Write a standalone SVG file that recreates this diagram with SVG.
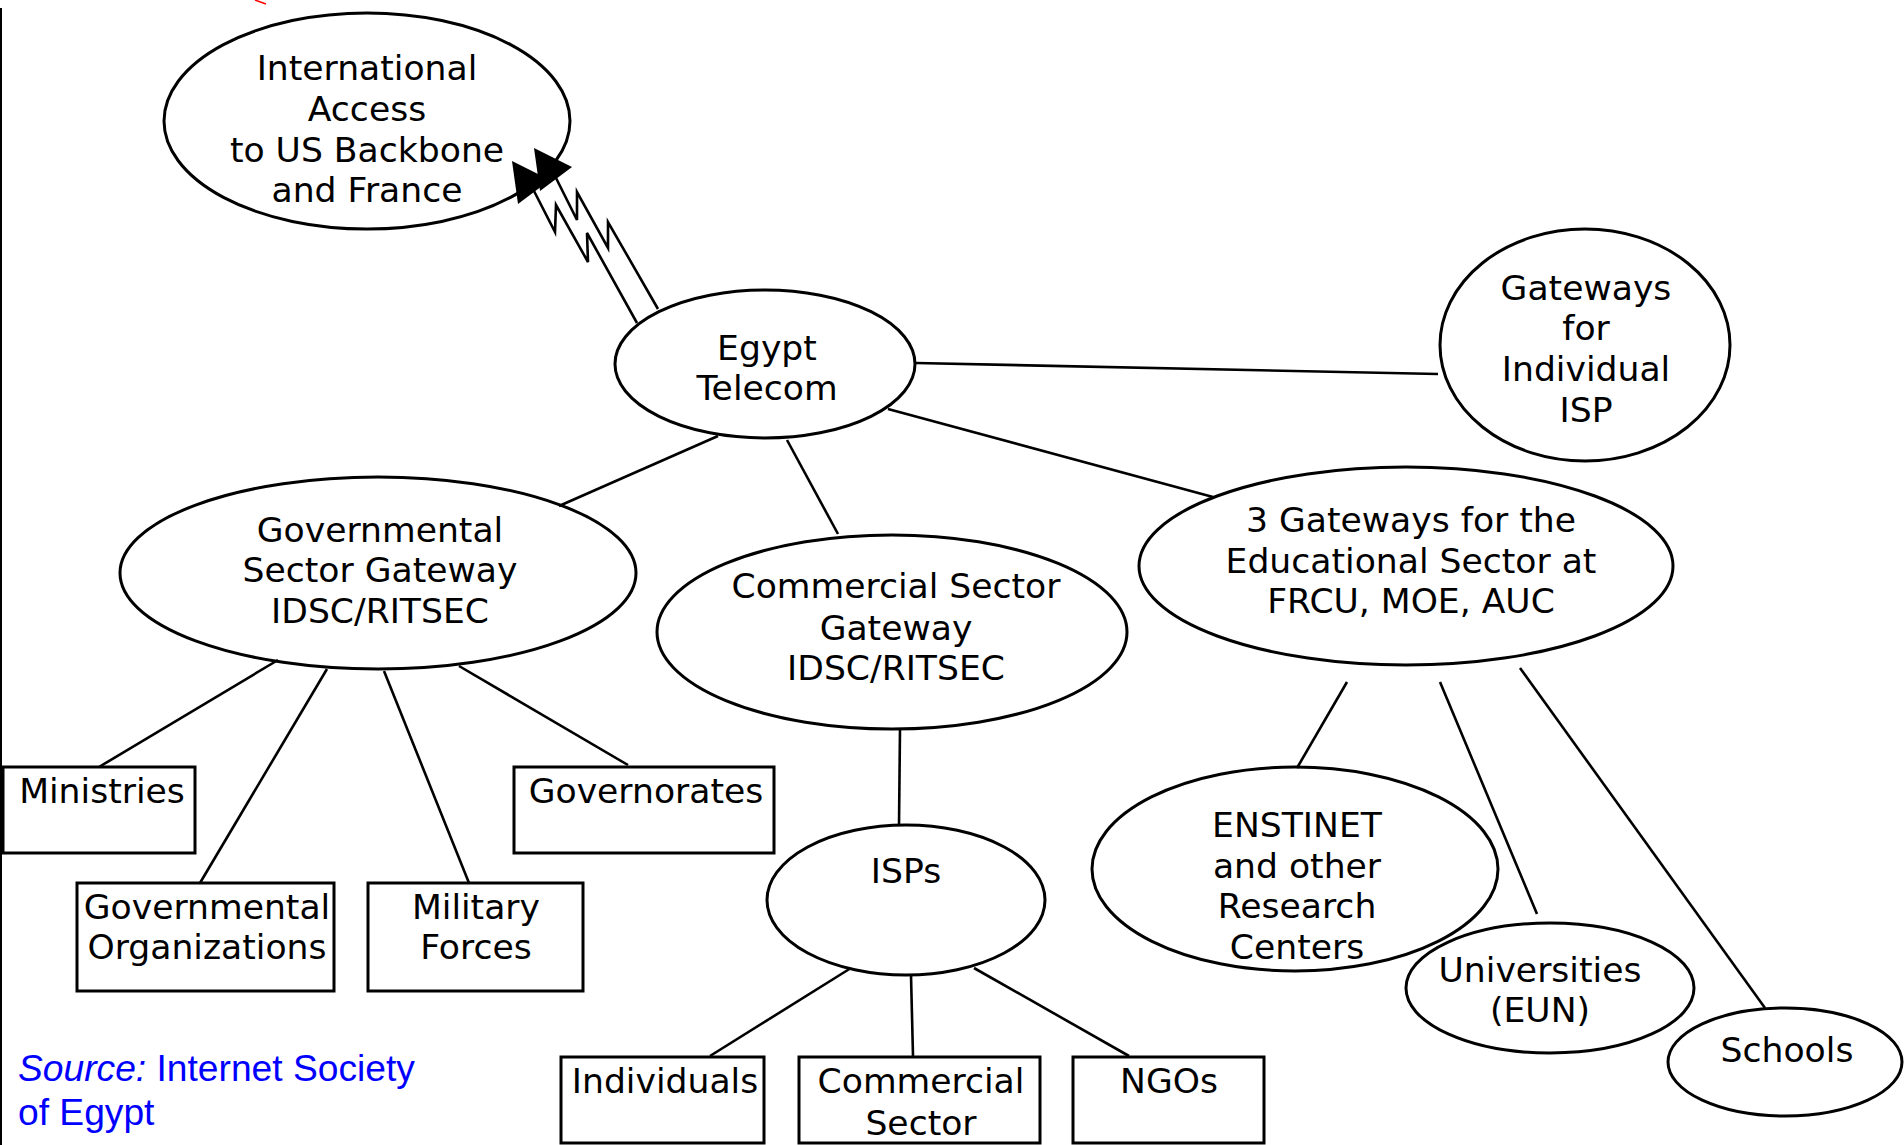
<svg xmlns="http://www.w3.org/2000/svg" width="1904" height="1145" viewBox="0 0 1904 1145">
<style>
.n{fill:none;stroke:#000;stroke-width:3}
.t{font-family:"DejaVu Sans",Verdana,sans-serif;font-size:34.6px;fill:#000;text-anchor:middle}
.c line,.c polyline{stroke:#000;stroke-width:2.6;fill:none}
.ah{fill:#000;stroke:none}
.src{font-family:"Liberation Sans",Arial,sans-serif;font-size:37.2px;fill:#0000ff}
</style>
<rect width="1904" height="1145" fill="#fff"/>
<line x1="1" y1="8" x2="1" y2="1145" stroke="#000" stroke-width="2"/>
<line x1="255" y1="0" x2="266" y2="4" stroke="#ff0000" stroke-width="1.5"/>

<g id="international">
<ellipse class="n" cx="367" cy="121" rx="203" ry="108"/>
<text class="t" x="367" y="80">International</text>
<text class="t" x="367" y="121">Access</text>
<text class="t" x="367" y="162">to US Backbone</text>
<text class="t" x="367" y="202">and France</text>
</g>
<g id="egypt-telecom">
<ellipse class="n" cx="765" cy="364" rx="150" ry="74"/>
<text class="t" x="767" y="360">Egypt</text>
<text class="t" x="767" y="400">Telecom</text>
</g>
<g id="gateways-isp">
<ellipse class="n" cx="1585" cy="345" rx="145" ry="116"/>
<text class="t" x="1586" y="300">Gateways</text>
<text class="t" x="1586" y="340">for</text>
<text class="t" x="1586" y="381">Individual</text>
<text class="t" x="1586" y="422">ISP</text>
</g>
<g id="gov-gateway">
<ellipse class="n" cx="378" cy="573" rx="258" ry="96"/>
<text class="t" x="380" y="542">Governmental</text>
<text class="t" x="380" y="582">Sector Gateway</text>
<text class="t" x="380" y="623">IDSC/RITSEC</text>
</g>
<g id="commercial-gateway">
<ellipse class="n" cx="892" cy="632" rx="235" ry="97"/>
<text class="t" x="896" y="598">Commercial Sector</text>
<text class="t" x="896" y="640">Gateway</text>
<text class="t" x="896" y="680">IDSC/RITSEC</text>
</g>
<g id="edu-gateways">
<ellipse class="n" cx="1406" cy="566" rx="267" ry="99"/>
<text class="t" x="1411" y="532">3 Gateways for the</text>
<text class="t" x="1411" y="573">Educational Sector at</text>
<text class="t" x="1411" y="613">FRCU, MOE, AUC</text>
</g>
<g id="ministries">
<rect class="n" x="3" y="767" width="192" height="86"/>
<text class="t" x="102" y="803">Ministries</text>
</g>
<g id="governorates">
<rect class="n" x="514" y="767" width="260" height="86"/>
<text class="t" x="646" y="803">Governorates</text>
</g>
<g id="gov-orgs">
<rect class="n" x="77" y="883" width="257" height="108"/>
<text class="t" x="207" y="919">Governmental</text>
<text class="t" x="207" y="959">Organizations</text>
</g>
<g id="military">
<rect class="n" x="368" y="883" width="215" height="108"/>
<text class="t" x="476" y="919">Military</text>
<text class="t" x="476" y="959">Forces</text>
</g>
<g id="isps">
<ellipse class="n" cx="906" cy="900" rx="139" ry="75"/>
<text class="t" x="906" y="883">ISPs</text>
</g>
<g id="individuals">
<rect class="n" x="561" y="1057" width="203" height="86"/>
<text class="t" x="665" y="1093">Individuals</text>
</g>
<g id="commercial-sector">
<rect class="n" x="799" y="1057" width="241" height="86"/>
<text class="t" x="921" y="1093">Commercial</text>
<text class="t" x="921" y="1135">Sector</text>
</g>
<g id="ngos">
<rect class="n" x="1073" y="1057" width="191" height="86"/>
<text class="t" x="1169" y="1093">NGOs</text>
</g>
<g id="enstinet">
<ellipse class="n" cx="1295" cy="869" rx="203" ry="102"/>
<text class="t" x="1297" y="837">ENSTINET</text>
<text class="t" x="1297" y="878">and other</text>
<text class="t" x="1297" y="918">Research</text>
<text class="t" x="1297" y="959">Centers</text>
</g>
<g id="universities">
<ellipse class="n" cx="1550" cy="988" rx="144" ry="65"/>
<text class="t" x="1540" y="982">Universities</text>
<text class="t" x="1540" y="1022">(EUN)</text>
</g>
<g id="schools">
<ellipse class="n" cx="1785" cy="1062" rx="117" ry="54"/>
<text class="t" x="1787" y="1062">Schools</text>
</g>

<g id="connectors" class="c">
<polyline points="534,191 555,232 556,205 588,262 587,233 637,323"/>
<polyline points="556,178 577,220 577,192 608,248 608,222 658,309"/>
<polygon class="ah" points="512,161 518,204 550,180"/>
<polygon class="ah" points="534,148 540,191 572,167"/>
<line x1="916" y1="363" x2="1438" y2="374"/>
<line x1="888" y1="409" x2="1213" y2="497"/>
<line x1="787" y1="440" x2="838" y2="534"/>
<line x1="718" y1="436" x2="559" y2="506"/>
<line x1="278" y1="660" x2="99" y2="767"/>
<line x1="327" y1="669" x2="200" y2="883"/>
<line x1="384" y1="671" x2="469" y2="883"/>
<line x1="459" y1="666" x2="628" y2="765"/>
<line x1="900" y1="729" x2="899" y2="826"/>
<line x1="851" y1="968" x2="710" y2="1056"/>
<line x1="911" y1="975" x2="913" y2="1056"/>
<line x1="974" y1="968" x2="1129" y2="1056"/>
<line x1="1347" y1="682" x2="1297" y2="768"/>
<line x1="1440" y1="682" x2="1537" y2="914"/>
<line x1="1520" y1="668" x2="1765" y2="1008"/>
</g>

<text class="src" x="18" y="1081"><tspan font-style="italic">Source:</tspan> Internet Society</text>
<text class="src" x="18" y="1125">of Egypt</text>
</svg>
